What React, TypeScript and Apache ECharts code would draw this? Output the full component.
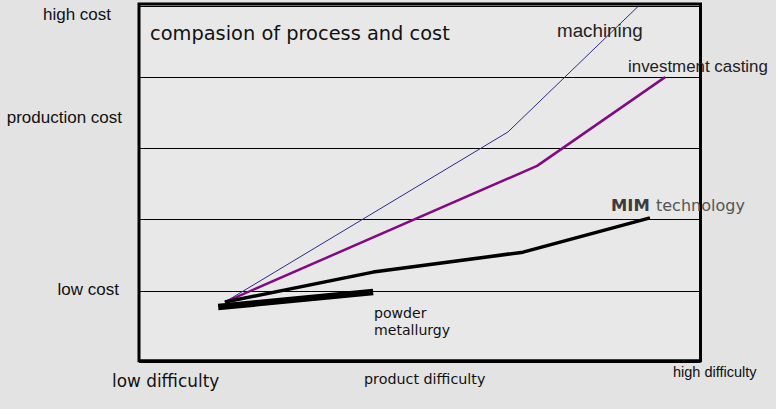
import React, { useEffect, useRef } from "react";
import * as echarts from "echarts";

// x: product difficulty (0 = low, 100 = high); y: production cost (0 = low, 100 = high)
const machiningX = [15.3, 65.7, 89.0];
const machiningY = [16.9, 64.6, 100];
const castingX = [15.3, 70.9, 93.7];
const castingY = [16.9, 55.1, 80.0];
const mimX = [15.3, 41.7, 68.4, 91.0];
const mimY = [16.9, 25.3, 30.9, 40.5];
const powderX = [14.1, 41.7];
const powderY = [15.5, 19.7];

const yTickLabels = ["high cost", "production cost", "low cost"];
const xTickLabels = ["low difficulty", "product difficulty", "high difficulty"];
const title = "compasion of process and cost";

const zip = (xs: number[], ys: number[]) => xs.map((x, i) => [x, ys[i]]);

export default function App() {
  const ref = useRef<HTMLDivElement>(null);
  useEffect(() => {
    if (!ref.current) return;
    const chart = echarts.init(ref.current, null, { renderer: "svg" });
    const arial = "'Liberation Sans', Arial, sans-serif";
    const dejavu = "'DejaVu Sans', Verdana, sans-serif";
    const txt = (x: number, y: number, text: string, fs: number, font: string, extra: any = {}) => ({
      type: "text",
      x,
      y,
      z: 10,
      style: {
        text,
        fontSize: fs,
        fontFamily: font,
        fill: "#111",
        textVerticalAlign: "middle",
        verticalAlign: "middle",
        ...extra,
      },
    });
    chart.setOption({
      animation: false,
      backgroundColor: "#e3e3e3",
      grid: {
        left: 139,
        right: 75.5,
        top: 5.8,
        bottom: 46.7,
        show: true,
        borderWidth: 0,
        borderColor: "transparent",
        backgroundColor: "#e8e8e8",
      },
      xAxis: {
        type: "value",
        min: 0,
        max: 100,
        axisLine: { show: false },
        axisTick: { show: false },
        axisLabel: { show: false },
        splitLine: { show: false },
      },
      yAxis: {
        type: "value",
        min: 0,
        max: 100,
        interval: 20,
        axisLine: { show: false },
        axisTick: { show: false },
        axisLabel: { show: false },
        splitLine: { show: true, lineStyle: { color: "#000", width: 1 } },
      },
      series: [
        {
          name: "machining",
          type: "line",
          data: zip(machiningX, machiningY),
          symbol: "none",
          clip: true,
          lineStyle: { color: "#2b2b86", width: 1 },
        },
        {
          name: "investment casting",
          type: "line",
          data: zip(castingX, castingY),
          symbol: "none",
          lineStyle: { color: "#820a82", width: 2.5 },
        },
        {
          name: "MIM technology",
          type: "line",
          data: zip(mimX, mimY),
          symbol: "none",
          lineStyle: { color: "#000", width: 3.5 },
        },
        {
          name: "powder metallurgy",
          type: "line",
          data: zip(powderX, powderY),
          symbol: "none",
          lineStyle: { color: "#000", width: 6.5 },
        },
      ],
      graphic: [
        {
          type: "rect",
          z: 5,
          shape: { x: 139, y: 4, width: 561.5, height: 356.7 },
          style: { fill: "none", stroke: "#000", lineWidth: 3 },
        },
        txt(150, 33.4, title, 19.4, dejavu),
        txt(111, 14, yTickLabels[0], 17, arial, { textAlign: "right", align: "right" }),
        txt(122, 117.3, yTickLabels[1], 17, arial, { textAlign: "right", align: "right" }),
        txt(119, 289.7, yTickLabels[2], 17, arial, { textAlign: "right", align: "right" }),
        txt(112, 381, xTickLabels[0], 16.9, dejavu),
        txt(364, 379.3, xTickLabels[1], 14.3, dejavu),
        txt(673, 371.6, xTickLabels[2], 14.5, arial),
        txt(557, 30.4, "machining", 18.8, arial, { fill: "#222" }),
        txt(628, 66.7, "investment casting", 16.9, arial, { fill: "#222" }),
        txt(611, 205.4, "MIM", 16.4, dejavu, { fontWeight: "bold", fill: "#3c3c3c" }),
        txt(656, 205.4, "technology", 16, dejavu, { fill: "#555" }),
        txt(374, 312.8, "powder", 14.1, dejavu),
        txt(374, 330, "metallurgy", 14.1, dejavu),
      ],
    });
    return () => chart.dispose();
  }, []);
  return (
    <div
      ref={ref}
      style={{ position: "fixed", left: 0, top: 0, width: 776, height: 409 }}
    />
  );
}
